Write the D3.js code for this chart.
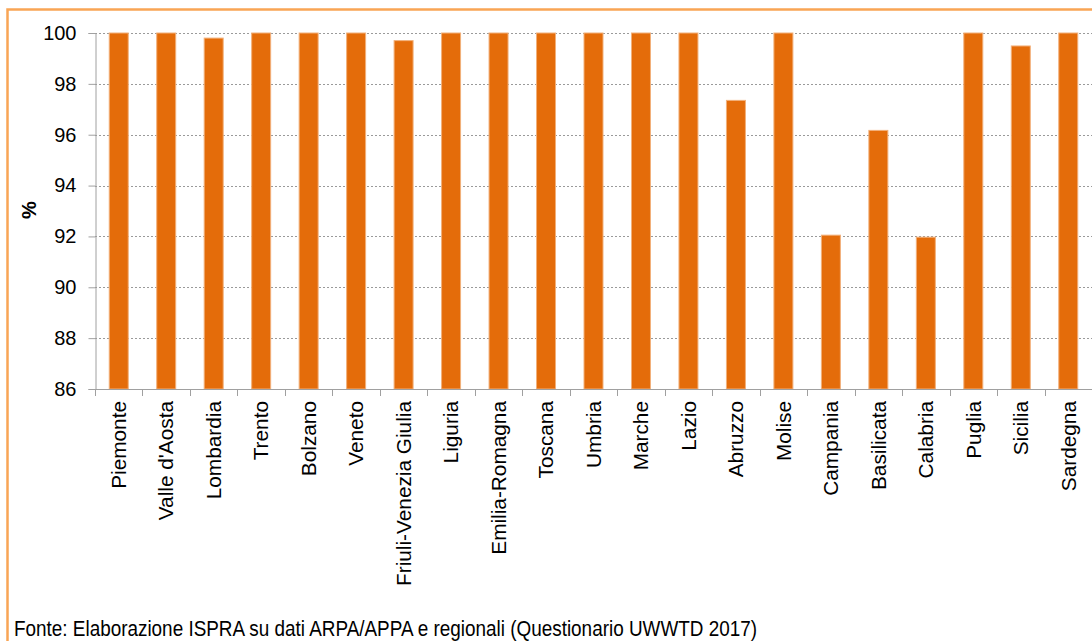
<!DOCTYPE html>
<html>
<head>
<meta charset="utf-8">
<script src="https://cdn.jsdelivr.net/npm/d3@7"></script>
<style>
  html, body { margin: 0; padding: 0; background: #fff; }
  svg { display: block; font-family: "Liberation Sans", Arial, sans-serif; }
</style>
</head>
<body>
<svg id="chart" width="1092" height="641"></svg>
<script>
const categories = ["Piemonte", "Valle d'Aosta", "Lombardia", "Trento", "Bolzano", "Veneto",
  "Friuli-Venezia Giulia", "Liguria", "Emilia-Romagna", "Toscana", "Umbria", "Marche",
  "Lazio", "Abruzzo", "Molise", "Campania", "Basilicata", "Calabria", "Puglia", "Sicilia", "Sardegna"];
const values = [100, 100, 99.8, 100, 100, 100, 99.7, 100, 100, 100, 100, 100,
  100, 97.35, 100, 92.05, 96.17, 91.97, 100, 99.49, 100];
const yTicks = [86, 88, 90, 92, 94, 96, 98, 100];
const yLabel = "%";
const source = "Fonte: Elaborazione ISPRA su dati ARPA/APPA e regionali (Questionario UWWTD 2017)";

const svg = d3.select("#chart");
const mLeft = 95, mRight = 1092, mTop = 33, mBottom = 389;

// frame
svg.append("rect")
  .attr("x", 7.5).attr("y", 9.5).attr("width", 1200).attr("height", 700)
  .attr("fill", "none").attr("stroke", "#F9A555").attr("stroke-width", 2.5);

const x = d3.scaleBand().domain(categories).range([mLeft, mRight]).paddingInner(0.6).paddingOuter(0.3);
const y = d3.scaleLinear().domain([86, 100]).range([mBottom, mTop]);

// gridlines
svg.append("g").selectAll("line").data(yTicks.filter(d => d > 86)).join("line")
  .attr("x1", mLeft).attr("x2", mRight)
  .attr("y1", d => Math.round(y(d)) + 0.5).attr("y2", d => Math.round(y(d)) + 0.5)
  .attr("stroke", "#9a9a9a").attr("stroke-width", 1).attr("stroke-dasharray", "2,2");

// bars
svg.append("g").selectAll("rect").data(categories).join("rect")
  .attr("x", d => x(d)).attr("width", x.bandwidth())
  .attr("y", (d, i) => y(values[i])).attr("height", (d, i) => y(86) - y(values[i]))
  .attr("fill", "#E46C0A").attr("stroke", "#F2B07A").attr("stroke-width", 1);

// y axis
const yAxis = d3.axisLeft(y).tickValues(yTicks).tickSize(7).tickPadding(12).tickFormat(d3.format("d"));
const gy = svg.append("g").attr("transform", `translate(${mLeft + 0.5},0)`).call(yAxis);
gy.select(".domain").attr("stroke", "#a0a0a0");
gy.selectAll(".tick line").attr("stroke", "#a0a0a0");
gy.selectAll(".tick text").attr("font-size", 20).attr("fill", "#000")
  .attr("font-family", "'Liberation Sans', Arial, sans-serif");

// x axis: ticks at band boundaries
const bounds = d3.range(categories.length + 1).map(i => mLeft + i * x.step());
svg.append("line").attr("x1", mLeft).attr("x2", mRight).attr("y1", mBottom + 0.5).attr("y2", mBottom + 0.5)
  .attr("stroke", "#a0a0a0");
svg.append("g").selectAll("line").data(bounds).join("line")
  .attr("x1", d => Math.round(d) + 0.5).attr("x2", d => Math.round(d) + 0.5)
  .attr("y1", mBottom).attr("y2", mBottom + 7).attr("stroke", "#a0a0a0");

svg.append("g").selectAll("text").data(categories).join("text")
  .attr("transform", d => `translate(${x(d) + x.bandwidth() / 2},${401}) rotate(-90)`)
  .attr("text-anchor", "end").attr("dy", "0.35em")
  .attr("font-size", 20.8).attr("fill", "#000")
  .text(d => d);

// y label
svg.append("text")
  .attr("transform", `translate(29,${(mTop + mBottom) / 2 - 1}) rotate(-90)`)
  .attr("text-anchor", "middle").attr("dy", "0.35em")
  .attr("font-size", 20).attr("font-weight", "bold").attr("fill", "#000")
  .text(yLabel);

// source
svg.append("text")
  .attr("x", 14).attr("y", 636)
  .attr("font-size", 22).attr("fill", "#000")
  .attr("font-family", "'Liberation Sans Narrow', 'Arial Narrow', 'Liberation Sans', sans-serif")
  .attr("textLength", 743).attr("lengthAdjust", "spacingAndGlyphs")
  .text(source);
</script>
</body>
</html>
